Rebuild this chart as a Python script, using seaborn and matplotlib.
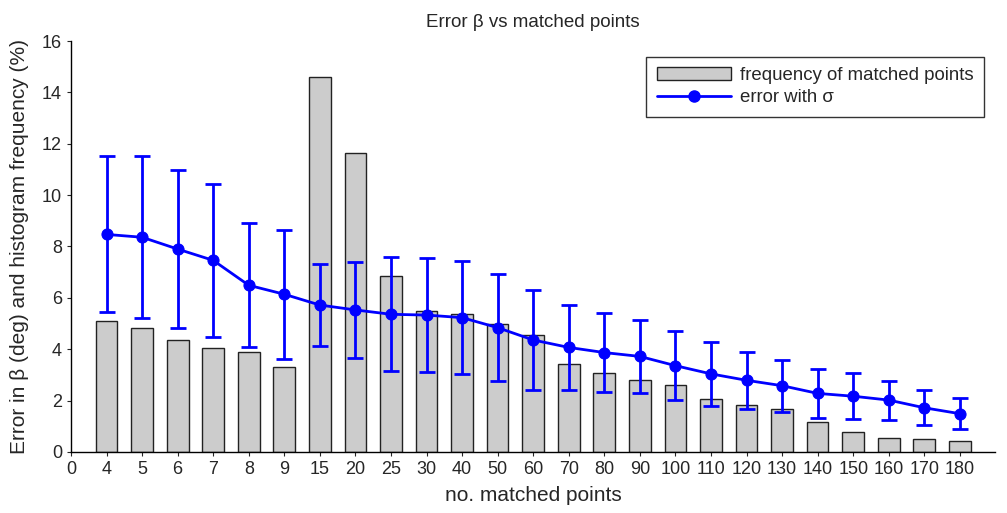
import numpy as np
import pandas as pd
import matplotlib
matplotlib.use("Agg")
import matplotlib.pyplot as plt
import seaborn as sns
from matplotlib.patches import Patch
from matplotlib.lines import Line2D

categories = ["4", "5", "6", "7", "8", "9", "15", "20", "25", "30", "40", "50", "60",
              "70", "80", "90", "100", "110", "120", "130", "140", "150", "160", "170", "180"]
frequency = [5.10, 4.84, 4.36, 4.04, 3.88, 3.32, 14.60, 11.65, 6.86, 5.48, 5.38, 4.98, 4.57,
             3.44, 3.09, 2.79, 2.60, 2.05, 1.83, 1.66, 1.16, 0.77, 0.55, 0.51, 0.44]
error_mean = [8.47, 8.36, 7.90, 7.46, 6.49, 6.14, 5.72, 5.53, 5.36, 5.33, 5.23, 4.84, 4.36,
              4.07, 3.87, 3.72, 3.36, 3.04, 2.79, 2.58, 2.28, 2.17, 2.02, 1.72, 1.49]
error_sigma = [3.04, 3.16, 3.06, 2.98, 2.41, 2.51, 1.58, 1.88, 2.22, 2.23, 2.19, 2.08, 1.93,
               1.64, 1.53, 1.41, 1.34, 1.24, 1.11, 1.01, 0.95, 0.89, 0.76, 0.68, 0.61]
tick_labels = ["0"] + categories

sns.set_theme(style="ticks")
plt.rcParams['font.family'] = ['Liberation Sans', 'DejaVu Sans']

pos = np.arange(1, len(categories) + 1)
df = pd.DataFrame({"pos": pos, "freq": frequency, "err": error_mean, "sig": error_sigma})

fig = plt.figure(figsize=(10.07, 5.13), dpi=100)
ax = fig.add_axes([0.0705, 0.119, 0.918, 0.801])

sns.barplot(data=df, x="pos", y="freq", native_scale=True, width=0.61,
            color="#cccccc", edgecolor="#222222", linewidth=1.0, saturation=1, ax=ax)
ax.errorbar(df["pos"], df["err"], yerr=df["sig"], fmt="none", ecolor="#0000ff",
            elinewidth=2.0, capsize=6, capthick=2.0, zorder=3)
sns.lineplot(data=df, x="pos", y="err", color="#0000ff", linewidth=2.0, marker="o",
             markersize=8, markeredgecolor="#0000ff", ax=ax, zorder=4)

ax.set_xlim(0, 26)
ax.set_ylim(0, 16)
ax.set_xticks(np.arange(0, len(tick_labels)))
ax.set_xticklabels(tick_labels)
ax.set_yticks(np.arange(0, 17, 2))
ax.tick_params(axis="both", labelsize=13, length=3, width=0.8, direction="out")
for s in ["top", "right"]:
    ax.spines[s].set_visible(False)
for s in ["left", "bottom"]:
    ax.spines[s].set_linewidth(1.0)
    ax.spines[s].set_color("black")

ax.set_xlabel("no. matched points", fontsize=15, labelpad=6)
ax.set_ylabel("Error in β (deg) and histogram frequency (%)", fontsize=15, labelpad=9)
ax.set_title("Error β vs matched points", fontsize=13.5, pad=10)

handles = [Patch(facecolor="#cccccc", edgecolor="#222222", linewidth=1.0),
           Line2D([0], [0], color="#0000ff", linewidth=2.0, marker="o", markersize=8)]
leg = ax.legend(handles, ["frequency of matched points", "error with σ"],
                loc="upper right", bbox_to_anchor=(0.998, 0.985), fontsize=13.4,
                frameon=True, fancybox=False, edgecolor="black", handlelength=4.0,
                borderpad=0.55, labelspacing=0.3, handletextpad=0.5)
leg.get_frame().set_linewidth(1.0)

fig.savefig("out.png", dpi=100)
